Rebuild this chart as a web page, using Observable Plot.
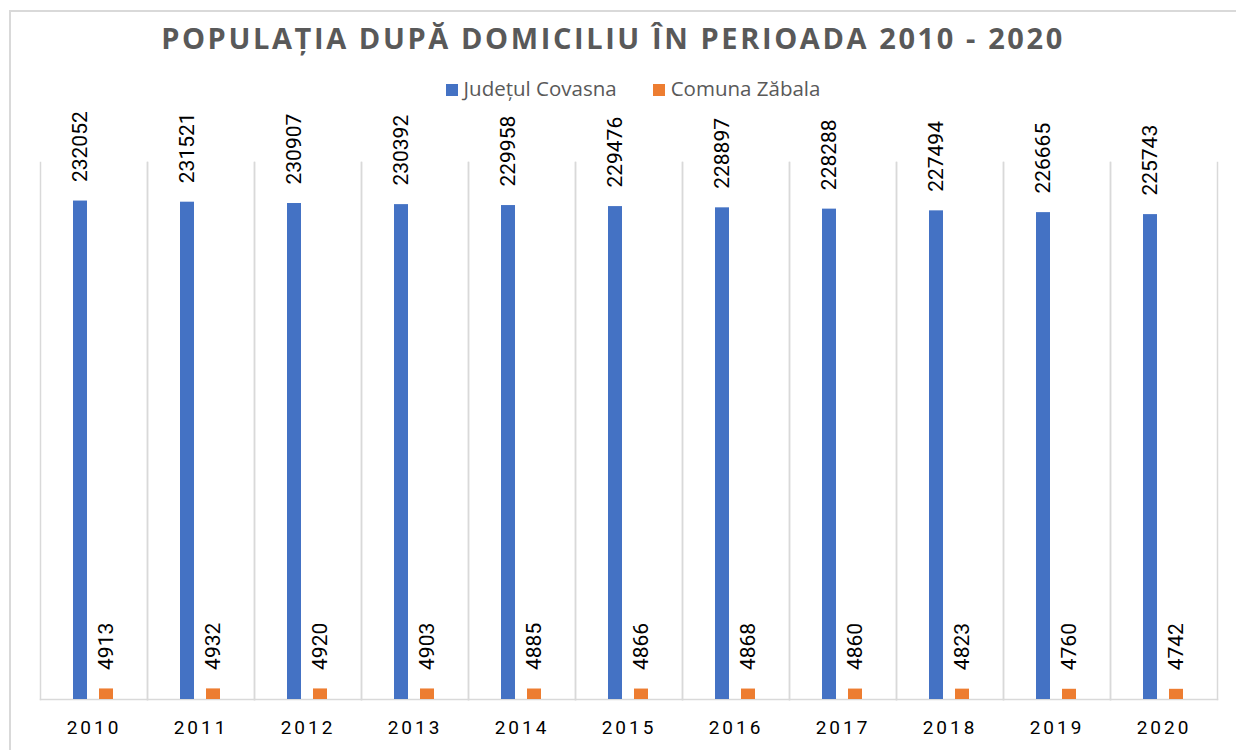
<!DOCTYPE html>
<html>
<head>
<meta charset="utf-8">
<script src="https://cdn.jsdelivr.net/npm/d3@7"></script>
<script src="https://cdn.jsdelivr.net/npm/@observablehq/plot@0.6"></script>
<style>
  html, body { margin: 0; padding: 0; background: #fff; }
  #wrap { width: 1236px; height: 750px; position: relative; overflow: hidden; font-family: "Open Sans", "Noto Sans", sans-serif; }
  #box { position: absolute; left: 9px; top: 10px; width: 1300px; height: 800px; border-left: 2px solid #d9d9d9; border-top: 2px solid #d9d9d9; }
  #title { position: absolute; top: 18px; left: -5px; width: 100%; text-align: center; font-weight: bold; font-size: 29px; letter-spacing: 2.6px; color: #595959; line-height: 40px; }
  #legend { position: absolute; top: 74px; left: 0; width: 1236px; box-sizing: border-box; padding-left: 30px; display: flex; justify-content: center; gap: 36px; font-size: 20.5px; color: #595959; line-height: 28px; font-family: "Open Sans", sans-serif; }
  #legend span.sw { display: inline-block; width: 12px; height: 12px; margin-right: 6px; vertical-align: 0px; }
  #chart { position: absolute; top: 110px; left: 0; }
  #chart svg [aria-label="fx-axis tick label"] text { letter-spacing: 3px; }
</style>
</head>
<body>
<div id="wrap">
  <div id="box"></div>
  <div id="title">POPULAȚIA DUPĂ DOMICILIU ÎN PERIOADA 2010 - 2020</div>
  <div id="legend"></div>
  <div id="chart"></div>
</div>
<script>
const years = ["2010","2011","2012","2013","2014","2015","2016","2017","2018","2019","2020"];
const covasna = [232052,231521,230907,230392,229958,229476,228897,228288,227494,226665,225743];
const zabala = [4913,4932,4920,4903,4885,4866,4868,4860,4823,4760,4742];
const seriesNames = ["Județul Covasna","Comuna Zăbala"];
const colors = ["#4472C4","#ED7D31"];

const data = years.flatMap((y, i) => [
  {year: y, series: seriesNames[0], value: covasna[i]},
  {year: y, series: seriesNames[1], value: zabala[i]}
]);

const legend = document.getElementById("legend");
seriesNames.forEach((s, i) => {
  const item = document.createElement("div");
  item.innerHTML = `<span class="sw" style="background:${colors[i]}"></span>${s}`;
  legend.appendChild(item);
});

const chart = Plot.plot({
  width: 1236,
  height: 640,
  marginTop: 52,
  marginBottom: 51,
  marginLeft: 35,
  marginRight: 14,
  style: {fontFamily: "Roboto, sans-serif", color: "#000", background: "transparent"},
  fx: {domain: years, paddingInner: 0, paddingOuter: 0, label: null, axis: null},
  x: {domain: seriesNames, paddingInner: 0.444, paddingOuter: 1.213, axis: null},
  y: {domain: [0, 250000], axis: null},
  color: {domain: seriesNames, range: colors},
  marks: [
    Plot.frame({anchor: "left", stroke: "#d9d9d9", strokeWidth: 1.5}),
    Plot.frame({anchor: "right", stroke: "#d9d9d9", strokeWidth: 1.5}),
    Plot.frame({anchor: "bottom", stroke: "#d9d9d9", strokeWidth: 1.5}),
    Plot.barY(data, {fx: "year", x: "series", y: "value", fill: "series"}),
    Plot.text(data, {fx: "year", x: "series", y: "value", text: d => String(d.value), rotate: -90, textAnchor: "start", lineAnchor: "middle", dy: -19, fontSize: 21, fill: "#000"}),
    Plot.axisFx({anchor: "bottom", tickSize: 0, tickPadding: 21, fontSize: 19, label: null, fill: "#000"})
  ]
});
document.getElementById("chart").appendChild(chart);
</script>
</body>
</html>
